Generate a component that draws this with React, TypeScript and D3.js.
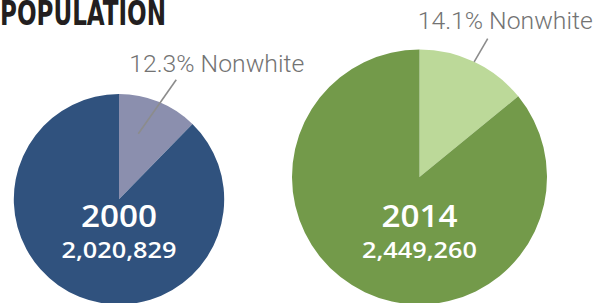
import React, { useEffect, useRef } from "react";
import * as d3 from "d3";

// data
const years = ["2000", "2014"];
const totals = [2020829, 2449260];
const nonwhiteShare = [12.3, 14.1];
const sliceColors = [
  ["#8b8fae", "#30527e"],
  ["#bcd999", "#739a4a"],
];

const W = 610;
const H = 303;

const App: React.FC = () => {
  const ref = useRef<SVGSVGElement | null>(null);

  useEffect(() => {
    const svg = d3.select(ref.current);
    svg.selectAll("*").remove();

    const rScale = d3.scaleLinear().domain([0, d3.max(totals)!]).range([0, 127.5]);
    const xScale = d3.scalePoint<string>().domain(years).range([119, 419.5]);
    const bottom = 304.5;

    // label layout (per pie): line inner/outer in radius fraction + angle offsets, text start offset
    const labelLayout = [
      { inR: 0.65, inA: -0.1, outR: 1.26, outA: 0.06, textDx: -47, textDy: -8 },
      { inR: 1.0, inA: 0.0, outR: 1.21, outA: 0.015, textDx: -70, textDy: -10 },
    ];

    const pie = d3.pie<number>().sort(null).value((d) => d);

    years.forEach((yr, i) => {
      const r = rScale(totals[i]);
      const cx = xScale(yr)!;
      const cy = bottom - r;
      const g = svg.append("g").attr("transform", `translate(${cx},${cy})`);
      const arcs = pie([nonwhiteShare[i], 100 - nonwhiteShare[i]]);
      const arc = d3.arc<d3.PieArcDatum<number>>().innerRadius(0).outerRadius(r);
      g.selectAll("path")
        .data(arcs)
        .enter()
        .append("path")
        .attr("d", arc as any)
        .attr("fill", (_, j) => sliceColors[i][j]);

      // leader line
      const a = arcs[0];
      const mid = (a.startAngle + a.endAngle) / 2;
      const L = labelLayout[i];
      const p = (rad: number, ang: number) => [rad * Math.sin(ang), -rad * Math.cos(ang)];
      const [x1, y1] = p(L.inR * r, mid + L.inA);
      const [x2, y2] = p(L.outR * r, mid + L.outA);
      g.append("line")
        .attr("x1", x1)
        .attr("y1", y1)
        .attr("x2", x2)
        .attr("y2", y2)
        .attr("stroke", "#8c8c8c")
        .attr("stroke-width", 1.6);
      g.append("text")
        .attr("x", x2 + L.textDx)
        .attr("y", y2 + L.textDy)
        .attr("font-family", "Roboto, 'Liberation Sans', sans-serif")
        .attr("font-weight", 300)
        .attr("font-size", 24)
        .attr("fill", "#737373")
        .attr("textLength", 175)
        .attr("lengthAdjust", "spacingAndGlyphs")
        .text(`${nonwhiteShare[i]}% Nonwhite`);

      // centre labels (absolute baselines)
      svg.append("text")
        .attr("x", cx)
        .attr("y", 226.5)
        .attr("text-anchor", "middle")
        .attr("font-family", "'Open Sans', 'DejaVu Sans', sans-serif")
        .attr("font-weight", 600)
        .attr("font-size", 30.5)
        .attr("fill", "#fff")
        .attr("textLength", 76)
        .attr("lengthAdjust", "spacingAndGlyphs")
        .text(yr);
      svg.append("text")
        .attr("x", cx)
        .attr("y", 257.5)
        .attr("text-anchor", "middle")
        .attr("font-family", "'Open Sans', 'DejaVu Sans', sans-serif")
        .attr("font-weight", 600)
        .attr("font-size", 21)
        .attr("fill", "#fff")
        .attr("textLength", 115)
        .attr("lengthAdjust", "spacingAndGlyphs")
        .text(d3.format(",")(totals[i]));
    });

    svg.append("text")
      .attr("x", 0)
      .attr("y", 25)
      .attr("font-family", "'Liberation Sans Narrow', 'DejaVu Sans Condensed', sans-serif")
      .attr("font-weight", "bold")
      .attr("font-size", 33)
      .attr("fill", "#231f20")
      .attr("textLength", 166)
      .attr("lengthAdjust", "spacingAndGlyphs")
      .text("POPULATION");
  }, []);

  return (
    <svg
      ref={ref}
      width={W}
      height={H}
      style={{ position: "absolute", left: 0, top: 0, background: "#fff" }}
    />
  );
};

export default App;
